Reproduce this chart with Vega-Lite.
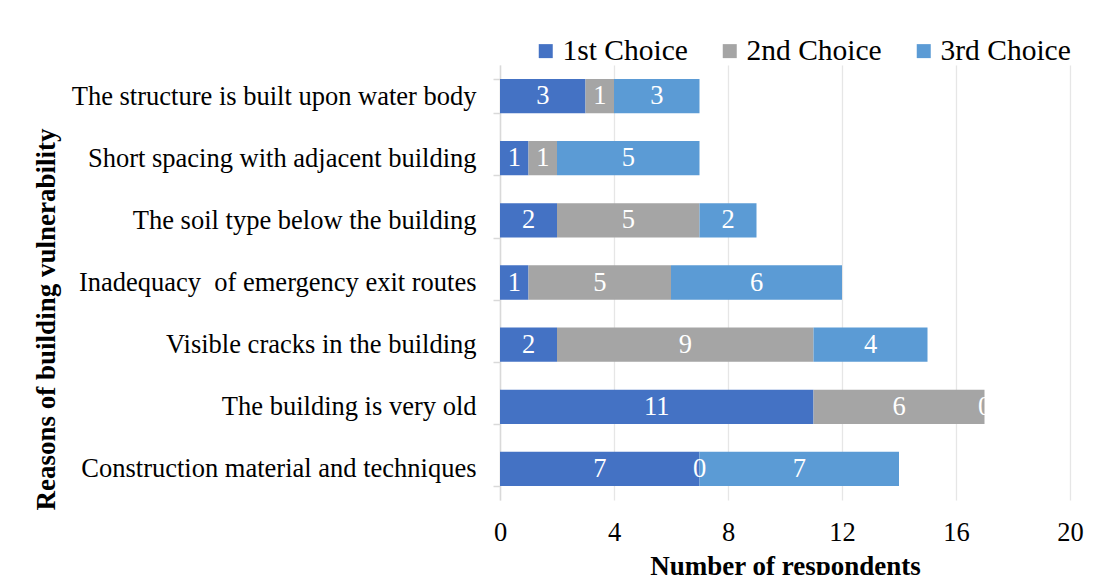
{
  "$schema": "https://vega.github.io/schema/vega-lite/v6.json",
  "width": 570,
  "height": 435,
  "autosize": {"type": "none"},
  "padding": {"left": 500, "top": 65, "right": 30, "bottom": 75},
  "background": "white",
  "config": {"font": "Liberation Serif", "view": {"stroke": null}},
  "data": {
    "values": [
      {"reason": "The structure is built upon water body", "choice": "1st Choice", "count": 3},
      {"reason": "The structure is built upon water body", "choice": "2nd Choice", "count": 1},
      {"reason": "The structure is built upon water body", "choice": "3rd Choice", "count": 3},
      {"reason": "Short spacing with adjacent building", "choice": "1st Choice", "count": 1},
      {"reason": "Short spacing with adjacent building", "choice": "2nd Choice", "count": 1},
      {"reason": "Short spacing with adjacent building", "choice": "3rd Choice", "count": 5},
      {"reason": "The soil type below the building", "choice": "1st Choice", "count": 2},
      {"reason": "The soil type below the building", "choice": "2nd Choice", "count": 5},
      {"reason": "The soil type below the building", "choice": "3rd Choice", "count": 2},
      {"reason": "Inadequacy \u00a0of emergency exit routes", "choice": "1st Choice", "count": 1},
      {"reason": "Inadequacy \u00a0of emergency exit routes", "choice": "2nd Choice", "count": 5},
      {"reason": "Inadequacy \u00a0of emergency exit routes", "choice": "3rd Choice", "count": 6},
      {"reason": "Visible cracks in the building", "choice": "1st Choice", "count": 2},
      {"reason": "Visible cracks in the building", "choice": "2nd Choice", "count": 9},
      {"reason": "Visible cracks in the building", "choice": "3rd Choice", "count": 4},
      {"reason": "The building is very old", "choice": "1st Choice", "count": 11},
      {"reason": "The building is very old", "choice": "2nd Choice", "count": 6},
      {"reason": "The building is very old", "choice": "3rd Choice", "count": 0},
      {"reason": "Construction material and techniques", "choice": "1st Choice", "count": 7},
      {"reason": "Construction material and techniques", "choice": "2nd Choice", "count": 0},
      {"reason": "Construction material and techniques", "choice": "3rd Choice", "count": 7}
    ]
  },
  "encoding": {
    "y": {
      "field": "reason",
      "type": "nominal",
      "sort": null,
      "scale": {"paddingInner": 0.448, "paddingOuter": 0.224},
      "axis": {
        "title": "Reasons of building vulnerability",
        "grid": false,
        "domainColor": "#d9d9d9",
        "domainWidth": 1.5,
        "tickColor": "#d9d9d9",
        "tickWidth": 1.5,
        "tickSize": 7,
        "tickBand": "extent",
        "labelFontSize": 26.5,
        "labelColor": "black",
        "labelPadding": 17,
        "labelLimit": 600,
        "titleFontSize": 27,
        "titleFontWeight": "bold",
        "titleColor": "black",
        "titleAngle": 270,
        "titleX": -446,
        "titleY": 254,
        "titleAlign": "center",
        "titleBaseline": "alphabetic"
      }
    }
  },
  "layer": [
    {
      "mark": {"type": "bar"},
      "encoding": {
        "x": {
          "field": "count",
          "type": "quantitative",
          "stack": "zero",
          "scale": {"domain": [0, 20], "nice": false},
          "axis": {
            "title": "Number of respondents",
            "values": [0, 4, 8, 12, 16, 20],
            "domain": false,
            "ticks": false,
            "grid": true,
            "gridColor": "#e6e6e6",
            "gridWidth": 1.3,
            "labelFlush": false,
            "labelFontSize": 26.5,
            "labelColor": "black",
            "labelBaseline": "middle",
            "labelPadding": 32,
            "titleFontSize": 27,
            "titleFontWeight": "bold",
            "titleColor": "black",
            "titleY": 74,
            "titleBaseline": "alphabetic"
          }
        },
        "color": {
          "field": "choice",
          "type": "nominal",
          "scale": {
            "domain": ["1st Choice", "2nd Choice", "3rd Choice"],
            "range": ["#4472C4", "#A5A5A5", "#5B9BD5"]
          },
          "legend": {
            "orient": "none",
            "legendX": 31,
            "legendY": -29,
            "direction": "horizontal",
            "title": null,
            "symbolType": "square",
            "symbolSize": 196,
            "symbolStrokeWidth": 0,
            "labelFontSize": 29.5,
            "labelColor": "black",
            "labelOffset": 2,
            "columnPadding": 27,
            "padding": 0
          }
        },
        "order": {"field": "choice"}
      }
    },
    {
      "mark": {"type": "text", "color": "white", "fontSize": 26.5, "baseline": "middle", "align": "center"},
      "encoding": {
        "x": {"field": "count", "type": "quantitative", "stack": "zero", "bandPosition": 0.5},
        "text": {"field": "count", "type": "quantitative"},
        "detail": {"field": "choice"},
        "order": {"field": "choice"}
      }
    }
  ]
}
